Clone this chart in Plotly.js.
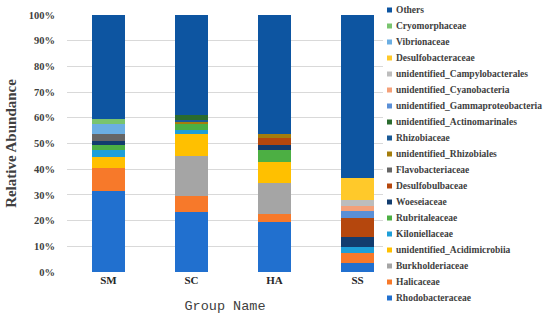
<!DOCTYPE html>
<html>
<head>
<meta charset="utf-8">
<script src="https://cdn.plot.ly/plotly-3.0.1.min.js"></script>
<style>html,body{margin:0;padding:0;background:#fff}#chart{width:550px;height:320px}</style>
</head>
<body>
<div id="chart"></div>
<script>
const groups = ["SM", "SC", "HA", "SS"];
const yTickVals = [0, 10, 20, 30, 40, 50, 60, 70, 80, 90, 100];

// stack order bottom -> top
const taxa = [
  "Rhodobacteraceae", "Halicaceae", "Burkholderiaceae", "unidentified_Acidimicrobiia",
  "Kiloniellaceae", "Rubritaleaceae", "Woeseiaceae", "Desulfobulbaceae",
  "Flavobacteriaceae", "unidentified_Rhizobiales", "Rhizobiaceae", "unidentified_Actinomarinales",
  "unidentified_Gammaproteobacteria", "unidentified_Cyanobacteria", "unidentified_Campylobacterales",
  "Desulfobacteraceae", "Vibrionaceae", "Cryomorphaceae", "Others"
];

const Rhodobacteraceae = [31.6, 23.3, 19.6, 3.6];
const Halicaceae = [8.7, 6.2, 3.0, 3.7];
const Burkholderiaceae = [0, 15.8, 11.9, 0];
const unidentified_Acidimicrobiia = [4.6, 8.3, 8.4, 0];
const Kiloniellaceae = [2.6, 1.8, 0, 2.3];
const Rubritaleaceae = [1.8, 2.0, 4.6, 0];
const Woeseiaceae = [1.8, 0, 1.9, 4.1];
const Desulfobulbaceae = [0, 0, 2.6, 7.4];
const Flavobacteriaceae = [2.6, 0, 0, 0];
const unidentified_Rhizobiales = [0, 1.1, 1.6, 0];
const Rhizobiaceae = [0, 0.8, 0, 0];
const unidentified_Actinomarinales = [0, 1.7, 0, 0];
const unidentified_Gammaproteobacteria = [0, 0, 0, 2.6];
const unidentified_Cyanobacteria = [0, 0, 0, 2.1];
const unidentified_Campylobacterales = [0, 0, 0, 2.2];
const Desulfobacteraceae = [0, 0, 0, 8.5];
const Vibrionaceae = [3.9, 0, 0, 0];
const Cryomorphaceae = [1.9, 0, 0, 0];
const Others = [40.5, 39.0, 46.4, 63.5];

const values = [
  Rhodobacteraceae, Halicaceae, Burkholderiaceae, unidentified_Acidimicrobiia,
  Kiloniellaceae, Rubritaleaceae, Woeseiaceae, Desulfobulbaceae,
  Flavobacteriaceae, unidentified_Rhizobiales, Rhizobiaceae, unidentified_Actinomarinales,
  unidentified_Gammaproteobacteria, unidentified_Cyanobacteria, unidentified_Campylobacterales,
  Desulfobacteraceae, Vibrionaceae, Cryomorphaceae, Others
];

const colors = [
  "#2170CF", "#F7792A", "#A5A5A5", "#FFC000",
  "#1E9FD8", "#4CAF43", "#123C6E", "#B5470D",
  "#666666", "#A47D0C", "#1A5A96", "#2A6B2E",
  "#5A8FD6", "#F4A079", "#BDBDBD",
  "#FFC92A", "#6BAEE2", "#79C46E", "#0D55A1"
];

const traces = taxa.map((name, i) => ({
  type: "bar",
  name: name,
  x: groups,
  y: values[i],
  marker: {color: colors[i], line: {width: 0}},
  showlegend: false,
  hoverinfo: "name+y"
}));

// manual compact legend (top -> bottom = reversed stack order)
const plotTop = 15, plotBottom = 272, plotLeft = 67, plotRight = 383;
const pH = plotBottom - plotTop, pW = plotRight - plotLeft;
const annotations = [];
const shapes = [];
const n = taxa.length;
for (let k = 0; k < n; k++) {
  const i = n - 1 - k;
  const ypx = 10 + 16 * k;
  const yp = (plotBottom - ypx) / pH;
  annotations.push({
    xref: "paper", yref: "paper",
    x: (395 - plotLeft) / pW, y: yp,
    xanchor: "left", yanchor: "middle",
    text: taxa[i], showarrow: false, borderpad: 0,
    font: {family: "Liberation Serif, Times New Roman, serif", size: 9.5, color: "#404040", weight: "bold"}
  });
  shapes.push({
    type: "rect", xref: "paper", yref: "paper",
    xsizemode: "pixel", ysizemode: "pixel",
    xanchor: (389.5 - plotLeft) / pW, yanchor: yp,
    x0: -2.5, x1: 2.5, y0: -2.5, y1: 2.5,
    fillcolor: colors[i], line: {width: 0}
  });
}

const layout = {
  width: 550, height: 320,
  margin: {l: plotLeft, r: 550 - plotRight, t: plotTop, b: 320 - plotBottom},
  paper_bgcolor: "#fff", plot_bgcolor: "#fff",
  barmode: "stack", bargap: 0.6,
  showlegend: false,
  xaxis: {
    type: "category",
    range: [-0.5, 3.307],
    showgrid: false, zeroline: false, showline: false,
    ticks: "",
    tickfont: {family: "Liberation Serif, Times New Roman, serif", size: 11, color: "#262626", weight: "bold"},
    title: {text: "Group Name", standoff: 15,
      font: {family: "Liberation Mono, monospace", size: 13.5, color: "#404040"}}
  },
  yaxis: {
    range: [0, 100], tickvals: yTickVals, ticktext: yTickVals.map(v => v + "%"),
    showgrid: true, gridcolor: "#D9D9D9", gridwidth: 1,
    zeroline: false, showline: false,
    ticks: "outside", ticklen: 9, tickcolor: "rgba(0,0,0,0)",
    tickfont: {family: "Liberation Serif, Times New Roman, serif", size: 10.5, color: "#404040", weight: "bold"},
    title: {text: "Relative Abundance", standoff: 8,
      font: {family: "Liberation Serif, Times New Roman, serif", size: 15, color: "#404040", weight: "bold"}}
  },
  annotations: annotations,
  shapes: shapes
};

Plotly.newPlot("chart", traces, layout, {displayModeBar: false, staticPlot: true});
</script>
</body>
</html>
